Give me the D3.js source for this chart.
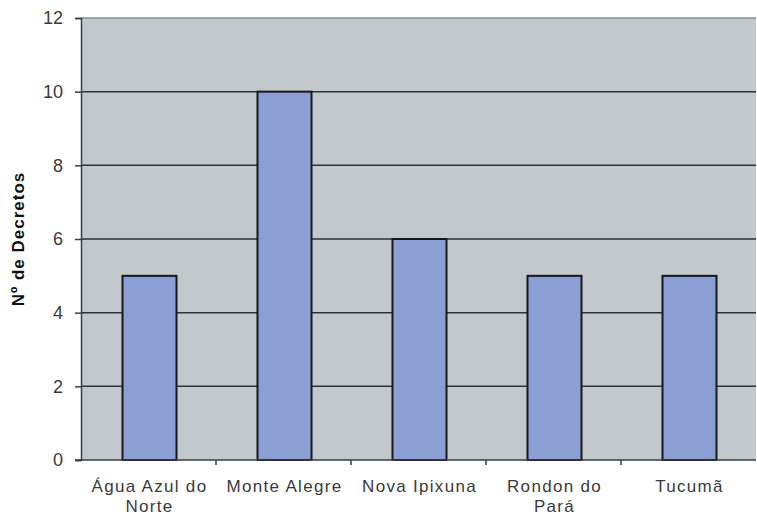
<!DOCTYPE html>
<html><head><meta charset="utf-8">
<script src="https://cdn.jsdelivr.net/npm/d3@7"></script>
<style>body{margin:0;background:#fff}</style>
</head><body>
<svg id="c" width="757" height="514"></svg>
<script>
const categories = [["Água Azul do","Norte"],["Monte Alegre"],["Nova Ipixuna"],["Rondon do","Pará"],["Tucumã"]];
const values = [5,10,6,5,5];
const yTicks = [0,2,4,6,8,10,12];
const yTitle = "Nº de Decretos";

const svg = d3.select("#c");
const FONT = "Liberation Sans, Arial, sans-serif";
const m = {l:81, r:756, t:18, b:460};
const x = d3.scaleBand().domain(d3.range(categories.length)).range([m.l,m.r]).padding(0);
const y = d3.scaleLinear().domain([0,12]).range([m.b,m.t]);

svg.append("rect").attr("x",m.l).attr("y",m.t).attr("width",m.r-m.l).attr("height",m.b-m.t).attr("fill","#c2c8cc");
svg.append("line").attr("x1",m.l).attr("x2",m.r).attr("y1",y(12)).attr("y2",y(12)).attr("stroke","#8a8e92").attr("stroke-width",1.5);
svg.selectAll(".g").data(yTicks.filter(d=>d>0 && d<12)).enter().append("line")
  .attr("x1",m.l).attr("x2",m.r).attr("y1",d=>y(d)).attr("y2",d=>y(d))
  .attr("stroke","#2e3236").attr("stroke-width",1.5);

const bw = x.bandwidth()*0.4;
svg.selectAll(".bar").data(values).enter().append("rect")
  .attr("x",(d,i)=>x(i)+x.bandwidth()/2-bw/2+1)
  .attr("y",d=>y(d)).attr("width",bw).attr("height",d=>y(0)-y(d))
  .attr("fill","#8c9fd4").attr("stroke","#15171a").attr("stroke-width",2);

const ya = svg.append("g").attr("transform",`translate(${m.l},0)`)
  .call(d3.axisLeft(y).tickValues(yTicks).tickSize(6).tickPadding(12));
ya.select(".domain").attr("stroke","#3a3d40").attr("stroke-width",1.5);
ya.selectAll(".tick line").attr("stroke","#3a3d40").attr("stroke-width",1.5);
ya.selectAll("text").attr("font-family",FONT).attr("font-size",18).attr("fill","#3a3a3a");

const xa = svg.append("g").attr("transform",`translate(0,${m.b})`);
xa.append("line").attr("x1",m.l-6).attr("x2",m.r).attr("y1",0).attr("y2",0).attr("stroke","#3a3d40").attr("stroke-width",1.5);
xa.selectAll(".xt").data(d3.range(1,categories.length)).enter().append("line")
  .attr("x1",i=>x(i)).attr("x2",i=>x(i)).attr("y1",0).attr("y2",5).attr("stroke","#3a3d40").attr("stroke-width",1.5);
categories.forEach((lines,i)=>{
  const t = xa.append("text").attr("text-anchor","middle")
    .attr("font-family",FONT).attr("font-size",17).attr("letter-spacing",1.3).attr("fill","#3a3a3a");
  lines.forEach((s,j)=>t.append("tspan").attr("x",x(i)+x.bandwidth()/2+1).attr("y",32+j*19.5).text(s));
});

svg.append("text").attr("transform",`translate(24,${(m.t+m.b)/2}) rotate(-90)`)
  .attr("text-anchor","middle").attr("font-family",FONT)
  .attr("font-size",17).attr("letter-spacing",1).attr("font-weight","bold").attr("fill","#111").text(yTitle);
</script>
</body></html>
